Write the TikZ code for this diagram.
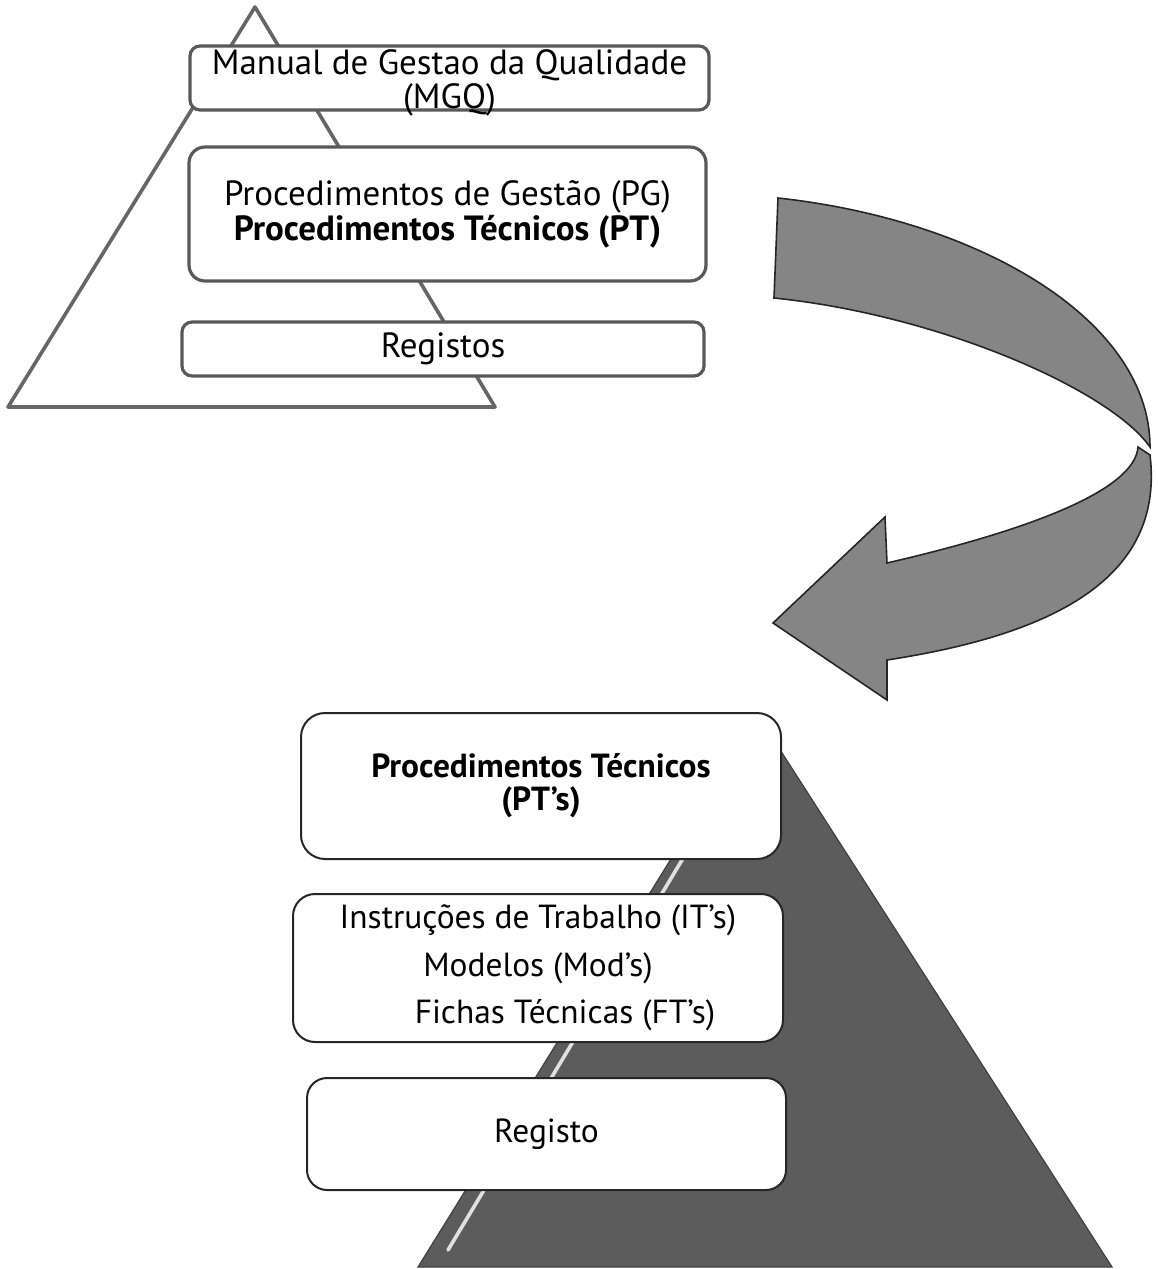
\documentclass[tikz,border=0pt]{standalone}
\usepackage{fontspec}
\setmainfont{PT Sans}
\usetikzlibrary{positioning}
\tikzset{
  lvl/.style={draw=black!65,line width=1.6pt,fill=white,rounded corners=6pt,align=center,inner sep=0pt,font=\fontsize{17.5}{15}\selectfont},
  sublvl/.style={draw=black!85,line width=1pt,fill=white,rounded corners=11pt,align=center,inner sep=0pt,font=\fontsize{16.7}{16.5}\selectfont},
  pyr/.style={draw=black!60,line width=1.8pt,line join=round},
  darkpyr/.style={fill=black!64,draw=black!75,line width=0.6pt},
  turnarrow/.style={fill=black!48,draw=black!85,line width=0.8pt,line join=miter}
}

\begin{document}
\begin{tikzpicture}[x=0.5pt,y=-0.5pt]
\useasboundingbox (0,0) rectangle (1157,1269);
% upper pyramid
\draw[pyr] (255,7) -- (495,407) -- (8,407) -- cycle;
\node[lvl,minimum width=259.5pt,minimum height=32pt,rounded corners=5pt] (mgq) at (449.5,78) {};
\node[align=center,inner sep=0pt,font=\fontsize{17.5}{15}\selectfont] (mgqtext) at (mgq.center) [yshift=-2.5pt] {Manual de Gestao da Qualidade\\(MGQ)};
\node[lvl,minimum width=258.5pt,minimum height=67pt,rounded corners=8pt] (pg) at (447.5,214) {Procedimentos de Gestão (PG)\\\textbf{Procedimentos Técnicos (PT)}};
\node[lvl,minimum width=261pt,minimum height=27pt,rounded corners=5pt] (regs) at (443,349) {Registos};

% turning arrow
\filldraw[turnarrow] (778,198) .. controls (980,220) and (1150,320) .. (1150,447)
  .. controls (1110,390) and (940,315) .. (774,298) -- cycle;
\filldraw[turnarrow] (1138,447) .. controls (1135,490) and (1030,530) .. (887,563)
  -- (885,517) -- (773,623) -- (887,700) -- (887,660)
  .. controls (1050,635) and (1165,580) .. (1150,455) -- cycle;

% lower pyramid
\filldraw[darkpyr] (759,717) -- (1112,1267) -- (418,1267) -- cycle;
\draw[black!12,line width=1.8pt,line cap=round] (754,740) -- (448,1250);
\node[sublvl,minimum width=240pt,minimum height=73pt,rounded corners=12pt,font=\bfseries\fontsize{16.7}{16.5}\selectfont] (pt) at (541,786) {Procedimentos Técnicos\\(PT's)};
\node[sublvl,minimum width=245pt,minimum height=74pt,font=\fontsize{16.7}{23.75}\selectfont] (it) at (538,968) {Instruções de Trabalho (IT's)\\Modelos (Mod's)\\\hspace*{27pt}Fichas Técnicas (FT's)};
\node[sublvl,minimum width=239.5pt,minimum height=56pt,rounded corners=10pt] (reg) at (546.5,1134) {Registo};
\end{tikzpicture}
\end{document}
